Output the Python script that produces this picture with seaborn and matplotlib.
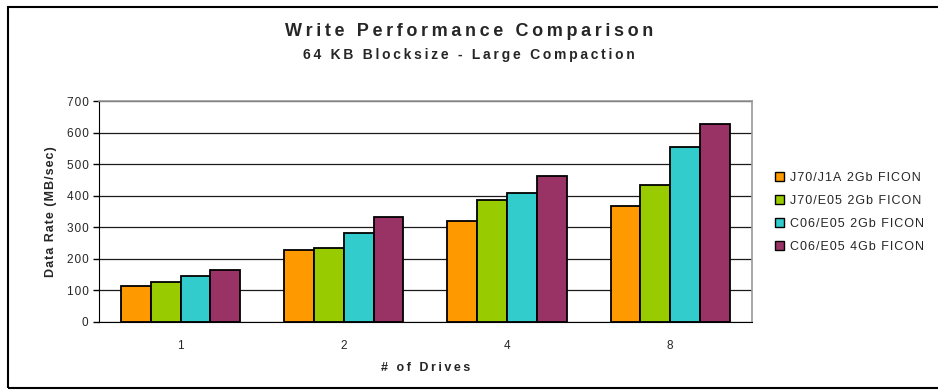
import numpy as np
import pandas as pd
import seaborn as sns
import matplotlib.pyplot as plt
from matplotlib.patches import Rectangle

sns.set_style('white')
plt.rcParams['font.family'] = ['Liberation Sans', 'DejaVu Sans']

# data
drives = ['1', '2', '4', '8']
series = ['J70/J1A 2Gb FICON', 'J70/E05 2Gb FICON', 'C06/E05 2Gb FICON', 'C06/E05 4Gb FICON']
j70_j1a_2gb = [113, 227, 319, 368]
j70_e05_2gb = [125, 235, 386, 434]
c06_e05_2gb = [146, 282, 407, 555]
c06_e05_4gb = [165, 331, 463, 627]
colors = ['#FF9900', '#99CC00', '#33CCCC', '#993366']


def spaced(s, gap='\u200a'):
    # old Excel export uses wide letter spacing
    return gap.join(s)


df = pd.DataFrame({
    'drives': drives * 4,
    'series': np.repeat(series, 4),
    'rate': j70_j1a_2gb + j70_e05_2gb + c06_e05_2gb + c06_e05_4gb,
})

fig = plt.figure(figsize=(9.38, 3.9), dpi=100)
ax = fig.add_axes([0.1055, 0.175, 0.696, 0.566])

sns.barplot(data=df, x='drives', y='rate', hue='series', palette=colors,
            saturation=1, width=0.73, edgecolor='black', linewidth=1.3,
            ax=ax, legend=False)

ax.set_ylim(0, 700)
ax.set_xlim(-0.5, 3.5)
ax.set_yticks(range(0, 701, 100))
ax.set_yticklabels([spaced(str(v)) for v in range(0, 701, 100)])
ax.yaxis.grid(True, color='#1a1a1a', linewidth=0.9)
ax.set_axisbelow(True)
for s in ['top', 'right']:
    ax.spines[s].set_color('#999999')
    ax.spines[s].set_linewidth(1.2)
ax.spines['left'].set_color('black')
ax.spines['bottom'].set_color('black')

ax.set_xticks([0, 1, 2, 3])
ax.set_xticklabels(drives)
ax.set_xticks([-0.5, 0.5, 1.5, 2.5, 3.5], minor=True)
ax.tick_params(axis='x', which='major', length=0, pad=13, labelsize=8.5)
ax.tick_params(axis='x', which='minor', length=4, width=1, color='black', direction='out')
ax.tick_params(axis='y', length=4, width=1, color='black', direction='out', labelsize=8.5, left=True)

ax.set_xlabel(spaced('# of Drives', '\u2009'), fontsize=9, fontweight='bold', labelpad=7)
ax.set_ylabel(spaced('Data Rate (MB/sec)'), fontsize=9, fontweight='bold', labelpad=7)

fig.text(0.5, 0.918, spaced('Write Performance Comparison', '\u2009'), ha='center', va='center',
         fontsize=13, fontweight='bold')
fig.text(0.5, 0.859, spaced('64 KB Blocksize - Large Compaction', '\u2009'), ha='center', va='center',
         fontsize=10, fontweight='bold')

handles = [Rectangle((0, 0), 1, 1, facecolor=c, edgecolor='black', linewidth=1) for c in colors]
fig.legend(handles, [spaced(s) for s in series], loc='center left', bbox_to_anchor=(0.814, 0.455),
           frameon=False, fontsize=9, handlelength=0.75, handleheight=0.75,
           handletextpad=0.5, labelspacing=0.87)

fig.patches.append(Rectangle((0.0085, 0.005), 1.1, 0.977, transform=fig.transFigure,
                             fill=False, edgecolor='black', linewidth=1.5))

fig.savefig('out.png', dpi=100)
